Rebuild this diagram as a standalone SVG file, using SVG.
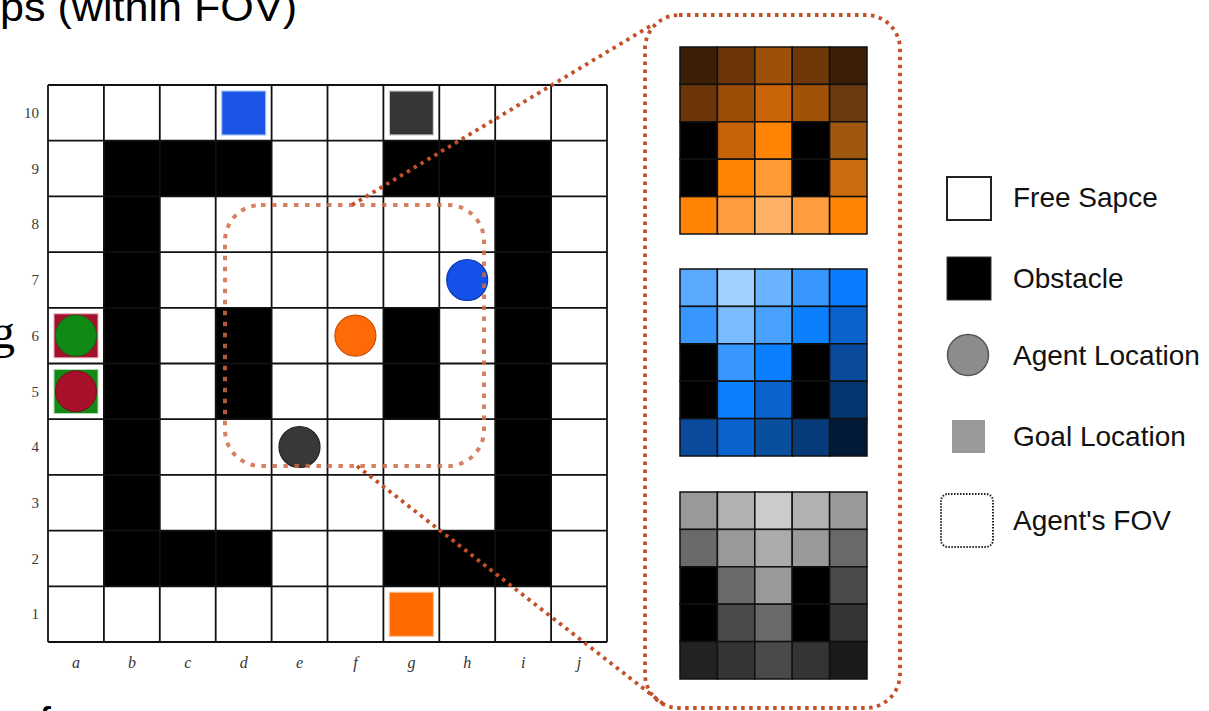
<svg xmlns="http://www.w3.org/2000/svg" width="1209" height="711" viewBox="0 0 1209 711">
<defs>
<style>
.grid line{stroke:#111;stroke-width:1.8}
.obs{fill:#000}
.rl{font-family:"Liberation Serif",serif;font-size:15px;fill:#3a3a3a;text-anchor:end}
.cl{font-family:"Liberation Serif",serif;font-style:italic;font-size:16px;fill:#333;text-anchor:middle}
.leg{font-family:"Liberation Sans",Arial,sans-serif;font-size:28px;fill:#111}
.slide{font-family:"Liberation Sans",Arial,sans-serif;fill:#000}
.hm rect{stroke:#111;stroke-width:1.5}
.fov{fill:none;stroke:#cf6a48;stroke-width:4;stroke-dasharray:4.5 6.5;opacity:.85}
.zoom{fill:none;stroke:#c2502a;stroke-width:3.8;stroke-dasharray:3.5 4.5}
</style>
</defs>
<rect width="1209" height="711" fill="#fff"/>

<g id="slide-text">
<text class="slide" x="0" y="21" font-size="40" textLength="297" lengthAdjust="spacingAndGlyphs">ps (within FOV)</text>
<text x="-9" y="348" font-family="Liberation Serif,serif" font-size="48" fill="#000">g</text>
<text class="slide" x="16" y="737" font-size="42">of</text>
</g>

<g id="gridworld">
<rect x="48" y="85" width="559" height="557" fill="#fff"/>
<g id="obstacles">
<rect class="obs" x="103.9" y="140.7" width="55.9" height="445.6"/>
<rect class="obs" x="103.9" y="140.7" width="167.7" height="55.7"/>
<rect class="obs" x="103.9" y="530.6" width="167.7" height="55.7"/>
<rect class="obs" x="495.2" y="140.7" width="55.9" height="445.6"/>
<rect class="obs" x="383.4" y="140.7" width="167.7" height="55.7"/>
<rect class="obs" x="383.4" y="530.6" width="167.7" height="55.7"/>
<rect class="obs" x="215.7" y="307.8" width="55.9" height="111.4"/>
<rect class="obs" x="383.4" y="307.8" width="55.9" height="111.4"/>
</g>
<g class="grid">
<line x1="48" y1="85" x2="48" y2="642"/>
<line x1="103.9" y1="85" x2="103.9" y2="642"/>
<line x1="159.8" y1="85" x2="159.8" y2="642"/>
<line x1="215.7" y1="85" x2="215.7" y2="642"/>
<line x1="271.6" y1="85" x2="271.6" y2="642"/>
<line x1="327.5" y1="85" x2="327.5" y2="642"/>
<line x1="383.4" y1="85" x2="383.4" y2="642"/>
<line x1="439.3" y1="85" x2="439.3" y2="642"/>
<line x1="495.2" y1="85" x2="495.2" y2="642"/>
<line x1="551.1" y1="85" x2="551.1" y2="642"/>
<line x1="607" y1="85" x2="607" y2="642"/>
<line x1="48" y1="85" x2="607" y2="85"/>
<line x1="48" y1="140.7" x2="607" y2="140.7"/>
<line x1="48" y1="196.4" x2="607" y2="196.4"/>
<line x1="48" y1="252.1" x2="607" y2="252.1"/>
<line x1="48" y1="307.8" x2="607" y2="307.8"/>
<line x1="48" y1="363.5" x2="607" y2="363.5"/>
<line x1="48" y1="419.2" x2="607" y2="419.2"/>
<line x1="48" y1="474.9" x2="607" y2="474.9"/>
<line x1="48" y1="530.6" x2="607" y2="530.6"/>
<line x1="48" y1="586.3" x2="607" y2="586.3"/>
<line x1="48" y1="642" x2="607" y2="642"/>
</g>
<g id="row-labels">
<text class="rl" x="39" y="118">10</text>
<text class="rl" x="39" y="173.7">9</text>
<text class="rl" x="39" y="229.4">8</text>
<text class="rl" x="39" y="285.1">7</text>
<text class="rl" x="39" y="340.8">6</text>
<text class="rl" x="39" y="396.5">5</text>
<text class="rl" x="39" y="452.2">4</text>
<text class="rl" x="39" y="507.9">3</text>
<text class="rl" x="39" y="563.6">2</text>
<text class="rl" x="39" y="619.3">1</text>
</g>
<g id="col-labels">
<text class="cl" x="76" y="668">a</text>
<text class="cl" x="131.9" y="668">b</text>
<text class="cl" x="187.8" y="668">c</text>
<text class="cl" x="243.7" y="668">d</text>
<text class="cl" x="299.6" y="668">e</text>
<text class="cl" x="355.5" y="668">f</text>
<text class="cl" x="411.4" y="668">g</text>
<text class="cl" x="467.3" y="668">h</text>
<text class="cl" x="523.2" y="668">i</text>
<text class="cl" x="579.1" y="668">j</text>
</g>
</g>

<g id="goals">
<rect x="221.7" y="91" width="44" height="44" fill="#1a55e6" stroke="#a9c4ff" stroke-width="1.2"/>
<rect x="389.4" y="91" width="44" height="44" fill="#363636" stroke="#cfcfcf" stroke-width="1.2"/>
<rect x="389.4" y="592.3" width="44" height="44" fill="#ff6a00" stroke="#ffb98a" stroke-width="1.2"/>
<rect x="54" y="313.8" width="44" height="44" fill="#a3122d" stroke="#e8b0b8" stroke-width="1"/>
<rect x="54" y="369.5" width="44" height="44" fill="#138a16" stroke="#b0dcb0" stroke-width="1"/>
</g>

<g id="agents">
<circle cx="76" cy="335.6" r="20.5" fill="#0f8a14" stroke="#0a6a0e" stroke-width="1"/>
<circle cx="76" cy="391.3" r="20.5" fill="#a8102a" stroke="#7a0a1e" stroke-width="1"/>
<circle cx="467.2" cy="280" r="20.5" fill="#1450ea" stroke="#0a3aa8" stroke-width="1.2"/>
<circle cx="355.4" cy="335.6" r="20.5" fill="#ff6a08" stroke="#c85000" stroke-width="1.2"/>
<circle cx="299.5" cy="447" r="20.5" fill="#383838" stroke="#222" stroke-width="1.2"/>
</g>

<g id="connectors">
<rect id="agent-fov" class="fov" x="225" y="205" width="259" height="261" rx="36"/>
<line class="zoom" x1="352" y1="205" x2="652" y2="25"/>
<line class="zoom" x1="357" y1="466" x2="666" y2="706"/>
<rect id="fov-zoom" class="zoom" x="645" y="15" width="255" height="693" rx="34"/>
</g>

<g id="heatmap-orange" class="hm">
<rect x="680" y="47" width="37.4" height="37.4" fill="#3d1f08"/>
<rect x="717.4" y="47" width="37.4" height="37.4" fill="#6b3508"/>
<rect x="754.8" y="47" width="37.4" height="37.4" fill="#9c5008"/>
<rect x="792.2" y="47" width="37.4" height="37.4" fill="#6e3808"/>
<rect x="829.6" y="47" width="37.4" height="37.4" fill="#3a1e08"/>
<rect x="680" y="84.4" width="37.4" height="37.4" fill="#6b3508"/>
<rect x="717.4" y="84.4" width="37.4" height="37.4" fill="#9a4e08"/>
<rect x="754.8" y="84.4" width="37.4" height="37.4" fill="#c96408"/>
<rect x="792.2" y="84.4" width="37.4" height="37.4" fill="#a05208"/>
<rect x="829.6" y="84.4" width="37.4" height="37.4" fill="#6a3a10"/>
<rect x="680" y="121.8" width="37.4" height="37.4" fill="#000"/>
<rect x="717.4" y="121.8" width="37.4" height="37.4" fill="#c86208"/>
<rect x="754.8" y="121.8" width="37.4" height="37.4" fill="#ff8405"/>
<rect x="792.2" y="121.8" width="37.4" height="37.4" fill="#000"/>
<rect x="829.6" y="121.8" width="37.4" height="37.4" fill="#a05810"/>
<rect x="680" y="159.2" width="37.4" height="37.4" fill="#000"/>
<rect x="717.4" y="159.2" width="37.4" height="37.4" fill="#ff8405"/>
<rect x="754.8" y="159.2" width="37.4" height="37.4" fill="#ff9a35"/>
<rect x="792.2" y="159.2" width="37.4" height="37.4" fill="#000"/>
<rect x="829.6" y="159.2" width="37.4" height="37.4" fill="#cc6c10"/>
<rect x="680" y="196.6" width="37.4" height="37.4" fill="#ff8405"/>
<rect x="717.4" y="196.6" width="37.4" height="37.4" fill="#ff9c40"/>
<rect x="754.8" y="196.6" width="37.4" height="37.4" fill="#ffb266"/>
<rect x="792.2" y="196.6" width="37.4" height="37.4" fill="#ff9c40"/>
<rect x="829.6" y="196.6" width="37.4" height="37.4" fill="#ff8405"/>
</g>

<g id="heatmap-blue" class="hm">
<rect x="680" y="269" width="37.4" height="37.4" fill="#5aa9ff"/>
<rect x="717.4" y="269" width="37.4" height="37.4" fill="#a2d0ff"/>
<rect x="754.8" y="269" width="37.4" height="37.4" fill="#6ab4ff"/>
<rect x="792.2" y="269" width="37.4" height="37.4" fill="#3896ff"/>
<rect x="829.6" y="269" width="37.4" height="37.4" fill="#0a7cff"/>
<rect x="680" y="306.4" width="37.4" height="37.4" fill="#3896ff"/>
<rect x="717.4" y="306.4" width="37.4" height="37.4" fill="#7abcff"/>
<rect x="754.8" y="306.4" width="37.4" height="37.4" fill="#48a0ff"/>
<rect x="792.2" y="306.4" width="37.4" height="37.4" fill="#0a80ff"/>
<rect x="829.6" y="306.4" width="37.4" height="37.4" fill="#0a62cc"/>
<rect x="680" y="343.8" width="37.4" height="37.4" fill="#000"/>
<rect x="717.4" y="343.8" width="37.4" height="37.4" fill="#3896ff"/>
<rect x="754.8" y="343.8" width="37.4" height="37.4" fill="#0a80ff"/>
<rect x="792.2" y="343.8" width="37.4" height="37.4" fill="#000"/>
<rect x="829.6" y="343.8" width="37.4" height="37.4" fill="#0a4a9c"/>
<rect x="680" y="381.2" width="37.4" height="37.4" fill="#000"/>
<rect x="717.4" y="381.2" width="37.4" height="37.4" fill="#0a80ff"/>
<rect x="754.8" y="381.2" width="37.4" height="37.4" fill="#0a62cc"/>
<rect x="792.2" y="381.2" width="37.4" height="37.4" fill="#000"/>
<rect x="829.6" y="381.2" width="37.4" height="37.4" fill="#063672"/>
<rect x="680" y="418.6" width="37.4" height="37.4" fill="#0a4a9c"/>
<rect x="717.4" y="418.6" width="37.4" height="37.4" fill="#0a62cc"/>
<rect x="754.8" y="418.6" width="37.4" height="37.4" fill="#08509e"/>
<rect x="792.2" y="418.6" width="37.4" height="37.4" fill="#063a78"/>
<rect x="829.6" y="418.6" width="37.4" height="37.4" fill="#021a38"/>
</g>

<g id="heatmap-gray" class="hm">
<rect x="680" y="492" width="37.4" height="37.4" fill="#999"/>
<rect x="717.4" y="492" width="37.4" height="37.4" fill="#b1b1b1"/>
<rect x="754.8" y="492" width="37.4" height="37.4" fill="#cbcbcb"/>
<rect x="792.2" y="492" width="37.4" height="37.4" fill="#b1b1b1"/>
<rect x="829.6" y="492" width="37.4" height="37.4" fill="#999"/>
<rect x="680" y="529.4" width="37.4" height="37.4" fill="#6a6a6a"/>
<rect x="717.4" y="529.4" width="37.4" height="37.4" fill="#999"/>
<rect x="754.8" y="529.4" width="37.4" height="37.4" fill="#ababab"/>
<rect x="792.2" y="529.4" width="37.4" height="37.4" fill="#999"/>
<rect x="829.6" y="529.4" width="37.4" height="37.4" fill="#6a6a6a"/>
<rect x="680" y="566.8" width="37.4" height="37.4" fill="#000"/>
<rect x="717.4" y="566.8" width="37.4" height="37.4" fill="#6a6a6a"/>
<rect x="754.8" y="566.8" width="37.4" height="37.4" fill="#999"/>
<rect x="792.2" y="566.8" width="37.4" height="37.4" fill="#000"/>
<rect x="829.6" y="566.8" width="37.4" height="37.4" fill="#4a4a4a"/>
<rect x="680" y="604.2" width="37.4" height="37.4" fill="#000"/>
<rect x="717.4" y="604.2" width="37.4" height="37.4" fill="#4a4a4a"/>
<rect x="754.8" y="604.2" width="37.4" height="37.4" fill="#6a6a6a"/>
<rect x="792.2" y="604.2" width="37.4" height="37.4" fill="#000"/>
<rect x="829.6" y="604.2" width="37.4" height="37.4" fill="#343434"/>
<rect x="680" y="641.6" width="37.4" height="37.4" fill="#222"/>
<rect x="717.4" y="641.6" width="37.4" height="37.4" fill="#343434"/>
<rect x="754.8" y="641.6" width="37.4" height="37.4" fill="#4a4a4a"/>
<rect x="792.2" y="641.6" width="37.4" height="37.4" fill="#343434"/>
<rect x="829.6" y="641.6" width="37.4" height="37.4" fill="#1a1a1a"/>
</g>

<g id="legend">
<g id="legend-free">
<rect x="947" y="177" width="44" height="43" fill="#fff" stroke="#222" stroke-width="2"/>
<text class="leg" x="1013" y="207">Free Sapce</text>
</g>
<g id="legend-obstacle">
<rect x="947" y="257" width="44" height="43" fill="#000" stroke="#333" stroke-width="1"/>
<text class="leg" x="1013" y="288">Obstacle</text>
</g>
<g id="legend-agent">
<circle cx="968" cy="355" r="20.5" fill="#8c8c8c" stroke="#555" stroke-width="1.5"/>
<text class="leg" x="1013" y="365">Agent Location</text>
</g>
<g id="legend-goal">
<rect x="952" y="420" width="33" height="33" fill="#999"/>
<text class="leg" x="1013" y="446">Goal Location</text>
</g>
<g id="legend-fov">
<rect x="941" y="494" width="52" height="53" rx="7" fill="none" stroke="#222" stroke-width="2" stroke-dasharray="1.5 1.5"/>
<text class="leg" x="1013" y="530">Agent's FOV</text>
</g>
</g>
</svg>
